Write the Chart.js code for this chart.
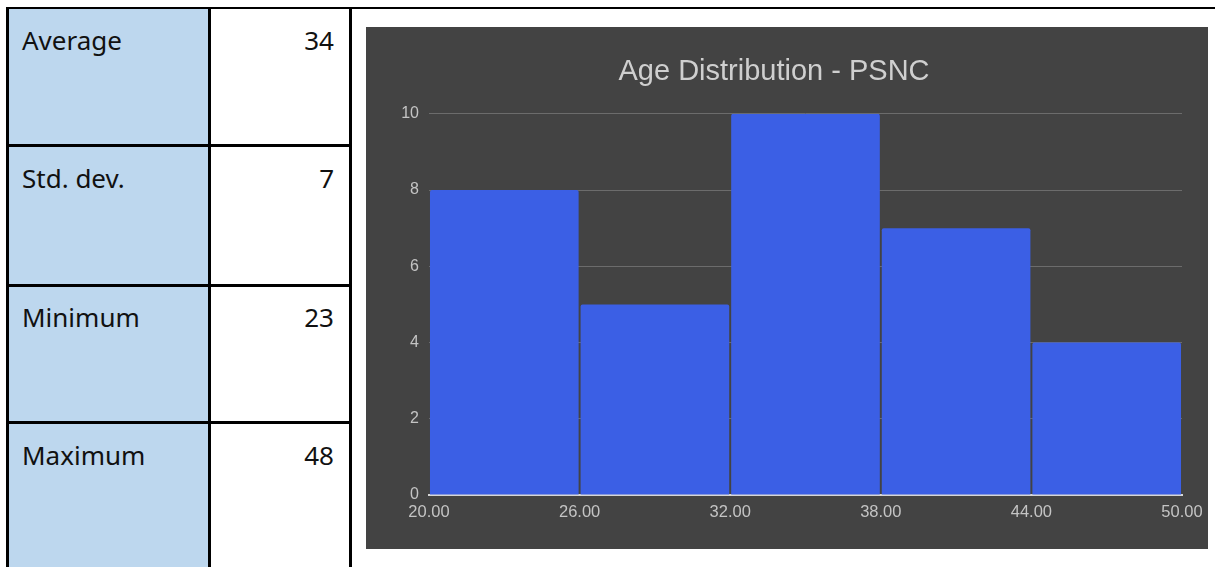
<!DOCTYPE html>
<html>
<head>
<meta charset="utf-8">
<script src="https://cdn.jsdelivr.net/npm/chart.js@4/dist/chart.umd.min.js"></script>
<style>
  html, body { margin: 0; padding: 0; background: #ffffff; }
  body { width: 1215px; height: 567px; position: relative; overflow: hidden; }
  .line { position: absolute; background: #000000; }
  .fill { position: absolute; background: #bdd7ee; }
  .cell-text {
    position: absolute;
    font-family: "Noto Sans", "Open Sans", sans-serif;
    font-size: 26px;
    line-height: 26px;
    color: #111111;
    white-space: nowrap;
  }
  #chartBox { position: absolute; left: 366px; top: 27px; width: 842px; height: 522px; background: #434343; }
  #chartBox canvas { display: block; }
</style>
</head>
<body>
<div class="fill" style="left:9px; top:9px; width:199px; height:558px;"></div>
<div id="table"></div>
<div id="chartBox"><canvas id="histogram" width="842" height="522"></canvas></div>

<script>
// Summary statistics shown in the side table
const statLabels = ['Average', 'Std. dev.', 'Minimum', 'Maximum'];
const statValues = [34, 7, 23, 48];

// Histogram bins (age ranges) and the number of people in each
const binEdges = [20, 26, 32, 38, 44, 50];
const binCounts = [8, 5, 10, 7, 4];
const yTicks = [0, 2, 4, 6, 8, 10];
const chartTitle = 'Age Distribution - PSNC';

// ---- side table ----
const rowTops = [9, 147, 286, 424];
const table = document.getElementById('table');
function addLine(l, t, w, h) {
  const d = document.createElement('div');
  d.className = 'line';
  d.style.cssText = `left:${l}px;top:${t}px;width:${w}px;height:${h}px;`;
  table.appendChild(d);
}
addLine(6, 7, 1209, 2);       // top rule
addLine(6, 7, 3, 560);        // left edge
addLine(208, 7, 3, 560);      // label / value divider
addLine(349, 7, 3, 560);      // table / chart divider
[144, 284, 421].forEach(y => addLine(6, y, 346, 3));

statLabels.forEach((label, i) => {
  const a = document.createElement('div');
  a.className = 'cell-text';
  a.style.left = '22px';
  a.style.top = (rowTops[i] + 18) + 'px';
  a.textContent = label;
  table.appendChild(a);

  const v = document.createElement('div');
  v.className = 'cell-text';
  v.style.right = (1215 - 334) + 'px';
  v.style.top = (rowTops[i] + 18) + 'px';
  v.textContent = String(statValues[i]);
  table.appendChild(v);
});

// ---- histogram ----
const binCenters = binEdges.slice(0, -1).map((e, i) => (e + binEdges[i + 1]) / 2);
const points = binCenters.map((c, i) => ({ x: c, y: binCounts[i] }));

new Chart(document.getElementById('histogram'), {
  type: 'bar',
  data: {
    datasets: [{
      data: points,
      backgroundColor: '#3b5fe5',
      borderWidth: 0,
      borderRadius: 2,
      barPercentage: 0.987,
      categoryPercentage: 1.0
    }]
  },
  options: {
    responsive: false,
    animation: false,
    events: [],
    layout: { padding: { top: 0, left: 0, right: 26, bottom: 0 } },
    plugins: {
      legend: { display: false },
      tooltip: { enabled: false },
      title: {
        display: true,
        text: chartTitle,
        color: '#cfcfcf',
        font: { family: '"Liberation Sans", Arial, sans-serif', size: 29, weight: 'normal' },
        padding: { top: 28, bottom: 24 }
      }
    },
    scales: {
      x: {
        type: 'linear',
        min: binEdges[0],
        max: binEdges[binEdges.length - 1],
        offset: false,
        z: 1,
        grid: { display: false, offset: false, drawTicks: false },
        border: { display: true, color: '#d6d6d6', width: 2 },
        afterBuildTicks: s => { s.ticks = binEdges.map(v => ({ value: v })); },
        ticks: {
          color: '#c4c4c4',
          padding: 8,
          maxRotation: 0,
          autoSkip: false,
          font: { family: '"Liberation Sans", Arial, sans-serif', size: 16.5 },
          callback: v => Number(v).toFixed(2)
        },
        // edge labels may spill into the layout padding
        afterFit: s => { s.height = 54; s.paddingLeft = 0; s.paddingRight = 0; }
      },
      y: {
        min: yTicks[0],
        max: yTicks[yTicks.length - 1],
        afterBuildTicks: s => { s.ticks = yTicks.map(v => ({ value: v })); },
        grid: { color: '#6c6c6c', lineWidth: 1, drawTicks: false },
        border: { display: false },
        ticks: {
          color: '#c4c4c4',
          padding: 10,
          font: { family: '"Liberation Sans", Arial, sans-serif', size: 16 }
        },
        afterFit: s => { s.width = 63; }
      }
    }
  }
});
</script>
</body>
</html>
